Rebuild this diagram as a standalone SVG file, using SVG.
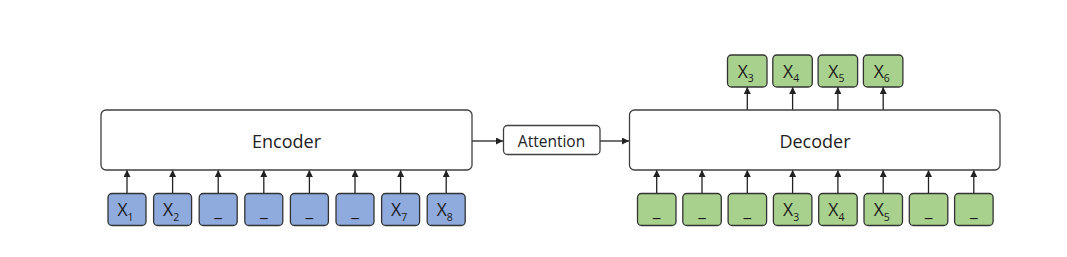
<svg xmlns="http://www.w3.org/2000/svg" width="1067" height="257" viewBox="0 0 1067 257">
<style>
.big{fill:#fff;stroke:#404040;stroke-width:1.3}
.blue{fill:#8FAADC;stroke:#333;stroke-width:1.3}
.green{fill:#A9D18E;stroke:#333;stroke-width:1.3}
.lbl{font-family:"Open Sans","Liberation Sans",sans-serif;fill:#222;text-anchor:middle}
.x{font-family:"Open Sans","Liberation Sans",sans-serif;fill:#1a1a1a;font-size:17.5px;text-anchor:middle}
.sub{font-size:10.5px}
.c{stroke:#222;stroke-width:1.3;fill:none;marker-end:url(#ah)}
</style>
<defs>
<marker id="ah" viewBox="0 0 10 10" refX="10" refY="5" markerWidth="7" markerHeight="7" markerUnits="userSpaceOnUse" orient="auto">
<path d="M0,0 L10,5 L0,10 z" fill="#222"/>
</marker>
</defs>
<rect width="1067" height="257" fill="#fff"/>
<g id="connectors">
<path class="c" d="M127,193 V170"/>
<path class="c" d="M172.6,193 V170"/>
<path class="c" d="M218.2,193 V170"/>
<path class="c" d="M263.8,193 V170"/>
<path class="c" d="M309.4,193 V170"/>
<path class="c" d="M355,193 V170"/>
<path class="c" d="M400.6,193 V170"/>
<path class="c" d="M446.2,193 V170"/>
<path class="c" d="M472,141 H503"/>
<path class="c" d="M600,141 H629"/>
<path class="c" d="M656.7,193 V170"/>
<path class="c" d="M702,193 V170"/>
<path class="c" d="M747.3,193 V170"/>
<path class="c" d="M792.6,193 V170"/>
<path class="c" d="M837.9,193 V170"/>
<path class="c" d="M883.2,193 V170"/>
<path class="c" d="M928.5,193 V170"/>
<path class="c" d="M973.8,193 V170"/>
<path class="c" d="M747.3,110 V87"/>
<path class="c" d="M792.6,110 V87"/>
<path class="c" d="M837.9,110 V87"/>
<path class="c" d="M883.2,110 V87"/>
</g>
<g id="encoder"><rect class="big" x="101" y="110" width="371" height="60" rx="5"/><text class="lbl" x="286.5" y="148" font-size="18">Encoder</text></g>
<g id="attention"><rect class="big" x="503.5" y="125.5" width="96.5" height="29" rx="4"/><text class="lbl" x="551.5" y="146.5" font-size="15.5">Attention</text></g>
<g id="decoder"><rect class="big" x="629.5" y="110" width="370.5" height="60" rx="5"/><text class="lbl" x="815" y="148" font-size="18">Decoder</text></g>
<g id="enc-in-1"><rect class="blue" x="108" y="193.5" width="38" height="32" rx="4"/><text class="x" x="125.5" y="216">X<tspan class="sub" dy="4.5">1</tspan></text></g>
<g id="enc-in-2"><rect class="blue" x="153.6" y="193.5" width="38" height="32" rx="4"/><text class="x" x="171.1" y="216">X<tspan class="sub" dy="4.5">2</tspan></text></g>
<g id="enc-in-3"><rect class="blue" x="199.2" y="193.5" width="38" height="32" rx="4"/><text class="x" x="218.2" y="216">_</text></g>
<g id="enc-in-4"><rect class="blue" x="244.8" y="193.5" width="38" height="32" rx="4"/><text class="x" x="263.8" y="216">_</text></g>
<g id="enc-in-5"><rect class="blue" x="290.4" y="193.5" width="38" height="32" rx="4"/><text class="x" x="309.4" y="216">_</text></g>
<g id="enc-in-6"><rect class="blue" x="336" y="193.5" width="38" height="32" rx="4"/><text class="x" x="355" y="216">_</text></g>
<g id="enc-in-7"><rect class="blue" x="381.6" y="193.5" width="38" height="32" rx="4"/><text class="x" x="399.1" y="216">X<tspan class="sub" dy="4.5">7</tspan></text></g>
<g id="enc-in-8"><rect class="blue" x="427.2" y="193.5" width="38" height="32" rx="4"/><text class="x" x="444.7" y="216">X<tspan class="sub" dy="4.5">8</tspan></text></g>
<g id="dec-in-1"><rect class="green" x="637.5" y="193.5" width="38.5" height="32" rx="4"/><text class="x" x="656.7" y="216">_</text></g>
<g id="dec-in-2"><rect class="green" x="682.8" y="193.5" width="38.5" height="32" rx="4"/><text class="x" x="702" y="216">_</text></g>
<g id="dec-in-3"><rect class="green" x="728.1" y="193.5" width="38.5" height="32" rx="4"/><text class="x" x="747.3" y="216">_</text></g>
<g id="dec-in-4"><rect class="green" x="773.4" y="193.5" width="38.5" height="32" rx="4"/><text class="x" x="791.1" y="216">X<tspan class="sub" dy="4.5">3</tspan></text></g>
<g id="dec-in-5"><rect class="green" x="818.7" y="193.5" width="38.5" height="32" rx="4"/><text class="x" x="836.4" y="216">X<tspan class="sub" dy="4.5">4</tspan></text></g>
<g id="dec-in-6"><rect class="green" x="864" y="193.5" width="38.5" height="32" rx="4"/><text class="x" x="881.7" y="216">X<tspan class="sub" dy="4.5">5</tspan></text></g>
<g id="dec-in-7"><rect class="green" x="909.3" y="193.5" width="38.5" height="32" rx="4"/><text class="x" x="928.5" y="216">_</text></g>
<g id="dec-in-8"><rect class="green" x="954.6" y="193.5" width="38.5" height="32" rx="4"/><text class="x" x="973.8" y="216">_</text></g>
<g id="dec-out-1"><rect class="green" x="727.5" y="55" width="39.5" height="32" rx="4"/><text class="x" x="745.8" y="77.5">X<tspan class="sub" dy="4.5">3</tspan></text></g>
<g id="dec-out-2"><rect class="green" x="772.8" y="55" width="39.5" height="32" rx="4"/><text class="x" x="791.1" y="77.5">X<tspan class="sub" dy="4.5">4</tspan></text></g>
<g id="dec-out-3"><rect class="green" x="818.1" y="55" width="39.5" height="32" rx="4"/><text class="x" x="836.4" y="77.5">X<tspan class="sub" dy="4.5">5</tspan></text></g>
<g id="dec-out-4"><rect class="green" x="863.4" y="55" width="39.5" height="32" rx="4"/><text class="x" x="881.7" y="77.5">X<tspan class="sub" dy="4.5">6</tspan></text></g>
</svg>
